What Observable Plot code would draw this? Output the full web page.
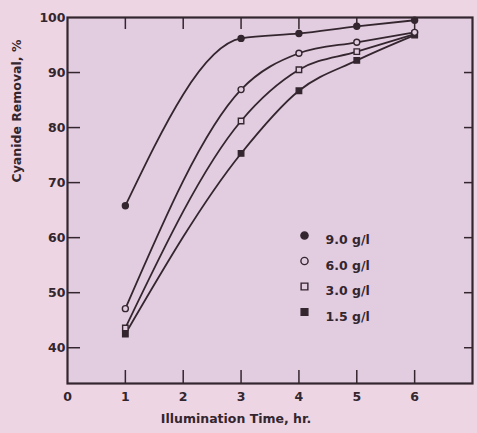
<!DOCTYPE html>
<html><head><meta charset="utf-8">
<script src="https://cdn.jsdelivr.net/npm/d3@7"></script>
<script src="https://cdn.jsdelivr.net/npm/@observablehq/plot@0.6"></script>
<style>
html,body{margin:0;padding:0;background:#eed5e3;}
#chart{width:477px;height:433px;}
svg{display:block;}
</style></head><body><div id="chart"></div>
<script>
// ---- data ----
const times = [1, 3, 4, 5, 6];
const series = ["9.0 g/l", "6.0 g/l", "3.0 g/l", "1.5 g/l"];
const removal90 = [65.8, 96.2, 97.1, 98.4, 99.5];
const removal60 = [47.1, 86.9, 93.5, 95.5, 97.3];
const removal30 = [43.6, 81.2, 90.5, 93.8, 97.0];
const removal15 = [42.5, 75.3, 86.7, 92.2, 96.8];
const xTicks = [0, 1, 2, 3, 4, 5, 6];
const yTicks = [40, 50, 60, 70, 80, 90, 100];
const xLabel = "Illumination Time, hr.";
const yLabel = "Cyanide Removal, %";

// ---- styles ----
const ink = "#34262e";
const paper = "#eed5e3";
const plotFill = "#e2cce0";
const styleBySeries = {
  "9.0 g/l": {symbol: "circle", filled: true},
  "6.0 g/l": {symbol: "circle", filled: false},
  "3.0 g/l": {symbol: "square", filled: false},
  "1.5 g/l": {symbol: "square", filled: true}
};
const valuesBySeries = [removal90, removal60, removal30, removal15];
const rows = series.flatMap((s, i) => times.map((t, j) => ({series: s, time: t, removal: valuesBySeries[i][j]})));

const W = 477, H = 433;
const mL = 67, mR = 5, mT = 17, mB = 50;
const font = "DejaVu Sans";

const legendMarks = series.flatMap((s, i) => {
  const st = styleBySeries[s];
  return [
    Plot.dot([s], {frameAnchor: "top-left", dx: 237, dy: 218 + 25.5 * i, symbol: () => st.symbol,
      r: st.symbol === "circle" ? 3.6 : 3.8, fill: st.filled ? ink : plotFill, stroke: ink, strokeWidth: 1.4}),
    Plot.text([s], {frameAnchor: "top-left", dx: 258, dy: 218 + 25.5 * i, text: d => d, textAnchor: "start",
      fill: ink, fontSize: 12.5, fontWeight: "bold", fontFamily: font})
  ];
});

const chart = Plot.plot({
  width: W, height: H,
  marginLeft: mL, marginRight: mR, marginTop: mT, marginBottom: mB,
  style: {background: paper, color: ink, fontFamily: font, fontSize: "12.5px", fontWeight: "bold", overflow: "visible"},
  x: {domain: [0, 7]},
  y: {domain: [33.5, 100]},
  symbol: {domain: series, range: series.map(s => styleBySeries[s].symbol)},
  marks: [
    Plot.frame({fill: plotFill, stroke: null}),
    // inward ticks
    Plot.axisY(yTicks.filter(d => d < 100), {anchor: "left", tickSize: -13, fill: "none", stroke: ink, strokeWidth: 1.5, label: null}),
    Plot.axisY(yTicks.filter(d => d < 100), {anchor: "right", tickSize: -9, fill: "none", stroke: ink, strokeWidth: 1.5, label: null}),
    Plot.axisX(xTicks.filter(d => d > 0), {anchor: "bottom", tickSize: -13, fill: "none", stroke: ink, strokeWidth: 1.5, label: null}),
    Plot.axisX(xTicks.filter(d => d > 0), {anchor: "top", tickSize: -11, fill: "none", stroke: ink, strokeWidth: 1.5, label: null}),
    // tick labels
    Plot.axisY(yTicks, {anchor: "left", tickSize: 0, tickPadding: 2, label: null, fill: ink}),
    Plot.axisX(xTicks, {anchor: "bottom", tickSize: 0, tickPadding: 9, label: null, fill: ink}),
    // curves
    Plot.line(rows, {x: "time", y: "removal", z: "series", curve: "monotone-x", stroke: ink, strokeWidth: 1.8}),
    Plot.dot(rows, {x: "time", y: "removal", symbol: "series",
      r: d => styleBySeries[d.series].symbol === "circle" ? 3.8 : 4,
      fill: d => styleBySeries[d.series].filled ? ink : plotFill, stroke: ink, strokeWidth: 1.4}),
    Plot.frame({stroke: ink, strokeWidth: 2.2}),
    ...legendMarks,
    Plot.text([xLabel], {frameAnchor: "bottom", dx: -34, dy: 39, text: d => d, fill: ink, fontSize: 12.5, fontWeight: "bold", fontFamily: font}),
    Plot.text([yLabel], {frameAnchor: "left", dx: -51, dy: -18, rotate: -90, text: d => d, fill: ink, fontSize: 12.5, fontWeight: "bold", fontFamily: font})
  ]
});
document.getElementById("chart").appendChild(chart);
</script>
</body></html>
